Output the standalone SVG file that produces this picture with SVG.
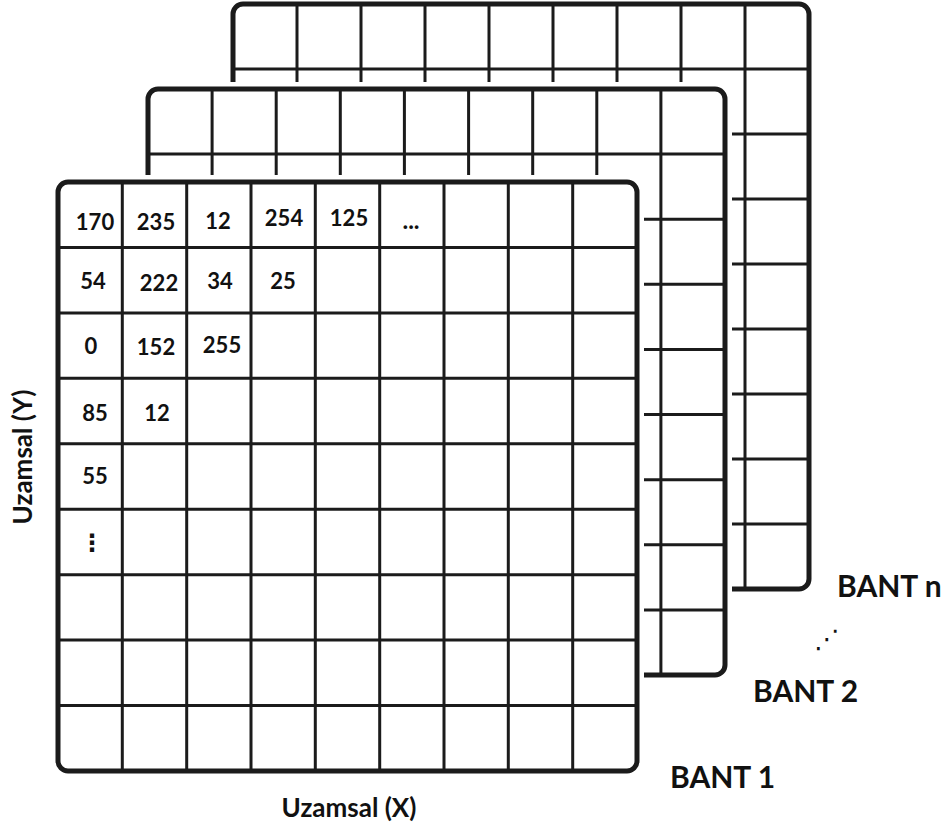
<svg xmlns="http://www.w3.org/2000/svg" width="946" height="832" viewBox="0 0 946 832">
  <style>
    .halo{fill:#fff;stroke:#fff;stroke-width:14}
    .frame{fill:none;stroke:#1b1b1b;stroke-width:5}
    .wires{fill:none;stroke:#1b1b1b;stroke-width:3}
    .num{font-family:Lato,"Open Sans","DejaVu Sans",sans-serif;font-weight:700;font-size:22px;text-anchor:middle;fill:#111}
    .band{font-family:Lato,"Open Sans",sans-serif;font-weight:700;font-size:30px;fill:#111}
    .axis{font-family:Lato,"Open Sans",sans-serif;font-weight:700;font-size:26px;text-anchor:middle;fill:#111}
    .sym{font-family:"DejaVu Sans",sans-serif;text-anchor:middle;fill:#111}
  </style>
  <rect width="946" height="832" fill="#fff"/>

  <!-- band n (rear grid) -->
  <g id="band-n">
    <rect class="halo" x="233" y="4" width="576" height="585" rx="10"/>
    <path class="wires" d="M297 4V589M361 4V589M425 4V589M489 4V589M553 4V589M617 4V589M681 4V589M745 4V589
      M233 69H809M233 134H809M233 199H809M233 264H809M233 329H809M233 394H809M233 459H809M233 524H809"/>
    <rect class="frame" x="233" y="4" width="576" height="585" rx="10"/>
  </g>

  <!-- band 2 (middle grid) -->
  <g id="band-2">
    <rect class="halo" x="148" y="89" width="577" height="586" rx="10"/>
    <path class="wires" d="M212.1 89V675M276.2 89V675M340.3 89V675M404.4 89V675M468.6 89V675M532.7 89V675M596.8 89V675M660.9 89V675
      M148 154.1H725M148 219.2H725M148 284.3H725M148 349.4H725M148 414.6H725M148 479.7H725M148 544.8H725M148 609.9H725"/>
    <rect class="frame" x="148" y="89" width="577" height="586" rx="10"/>
  </g>

  <!-- band 1 (front grid with pixel values) -->
  <g id="band-1">
    <rect class="halo" x="58" y="182" width="579" height="589" rx="10"/>
    <path class="wires" d="M122.3 182V771M186.7 182V771M251 182V771M315.3 182V771M379.7 182V771M444 182V771M508.3 182V771M572.7 182V771
      M58 247.4H637M58 312.9H637M58 378.3H637M58 443.8H637M58 509.2H637M58 574.7H637M58 640.1H637M58 705.6H637"/>
    <rect class="frame" x="58" y="182" width="579" height="589" rx="10"/>
    <g class="num">
      <text x="95" y="230">170</text>
      <text x="156" y="230">235</text>
      <text x="218" y="229">12</text>
      <text x="284" y="226">254</text>
      <text x="349" y="226">125</text>
      <text x="411" y="229" style="font-size:24px">...</text>
      <text x="93" y="289">54</text>
      <text x="159" y="291">222</text>
      <text x="220" y="289">34</text>
      <text x="283" y="289">25</text>
      <text x="91" y="354">0</text>
      <text x="156" y="355">152</text>
      <text x="222" y="353">255</text>
      <text x="95" y="421">85</text>
      <text x="157" y="421">12</text>
      <text x="95" y="484">55</text>
      <text class="sym" x="92" y="551" style="font-size:24px">⋮</text>
    </g>
  </g>

  <!-- band labels -->
  <g id="labels">
    <text class="band" x="837" y="597">BANT n</text>
    <text class="sym" x="827" y="648" style="font-size:26px">⋰</text>
    <text class="band" x="753" y="702">BANT 2</text>
    <text class="band" x="670" y="788">BANT 1</text>
    <text class="axis" x="349" y="817">Uzamsal (X)</text>
    <text class="axis" transform="translate(32 457) rotate(-90)">Uzamsal (Y)</text>
  </g>
</svg>
